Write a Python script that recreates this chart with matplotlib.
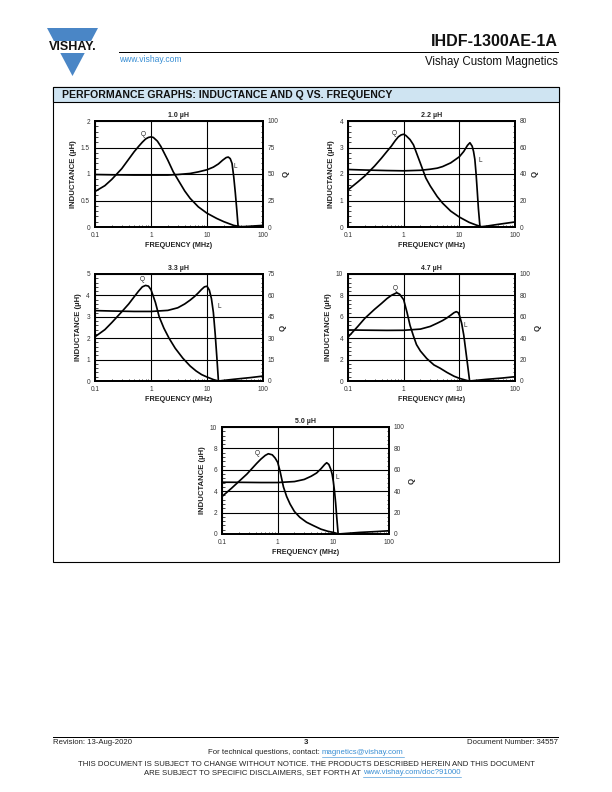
import numpy as np
import matplotlib
matplotlib.use('Agg')
import matplotlib.pyplot as plt
from matplotlib.patches import Polygon, Rectangle
from matplotlib.ticker import AutoMinorLocator, LogLocator, NullFormatter

plt.rcParams['font.family'] = ['Liberation Sans', 'DejaVu Sans']

# ---- data (frequency in MHz) ----
# 1.0 uH
f_L1 = [0.1, 0.2, 0.5, 1, 2, 3, 5, 7, 10, 13, 16, 19, 22, 24, 26, 28, 30, 32, 34, 36, 50, 70, 100]
L_1 = [0.99, 0.985, 0.98, 0.98, 0.98, 0.99, 1.01, 1.04, 1.08, 1.13, 1.19, 1.26, 1.31, 1.32, 1.29, 1.2,
       0.95, 0.65, 0.33, 0.0, 0.01, 0.02, 0.03]
f_Q1 = [0.1, 0.15, 0.2, 0.3, 0.4, 0.5, 0.6, 0.7, 0.8, 0.9, 1.0, 1.1, 1.3, 1.5, 2, 2.5, 3, 4, 5, 7, 10,
        15, 20, 30, 40, 60, 100]
Q_1 = [33.5, 39, 45, 55, 64, 71, 76, 80, 83, 84.5, 85, 84.5, 81, 76, 63, 52, 45, 34, 27, 19, 13,
       8, 5, 1.5, 0.3, 0, 0]

# 2.2 uH
f_L2 = [0.1, 0.2, 0.5, 1, 2, 3, 4, 5, 7, 10, 12, 14, 15.5, 17, 18, 19, 20, 21, 22, 23.5, 30, 50, 100]
L_2 = [2.17, 2.15, 2.13, 2.12, 2.14, 2.18, 2.22, 2.28, 2.42, 2.65, 2.85, 3.08, 3.18, 3.05, 2.85, 2.55,
       2.0, 1.35, 0.7, 0.0, 0.03, 0.1, 0.19]
f_Q2 = [0.1, 0.15, 0.2, 0.3, 0.4, 0.5, 0.6, 0.7, 0.8, 0.9, 1.0, 1.1, 1.3, 1.5, 2, 2.5, 3, 4, 5, 7, 10,
        15, 20, 25, 100]
Q_2 = [28, 34, 38.5, 46, 52, 57, 61, 65, 68, 69.5, 70, 69, 66, 62, 48, 37, 31, 23, 18, 12, 7.5,
       3.5, 1.5, 0.2, 0]

# 3.3 uH
f_L3 = [0.1, 0.2, 0.5, 1, 2, 3, 4, 5, 6, 7, 8, 9, 10, 11, 12, 13, 14, 15, 16, 30, 60, 100]
L_3 = [3.29, 3.27, 3.25, 3.25, 3.3, 3.42, 3.6, 3.78, 3.95, 4.12, 4.28, 4.4, 4.43, 4.25, 3.85, 3.2,
       2.2, 1.1, 0.0, 0.08, 0.16, 0.23]
f_Q3 = [0.1, 0.15, 0.2, 0.3, 0.4, 0.5, 0.6, 0.7, 0.8, 0.9, 1.0, 1.2, 1.4, 1.7, 2.1, 2.7, 3.7, 5,
        6.4, 8, 10, 13, 16, 100]
Q_3 = [31, 36, 41, 48.5, 54, 59, 63, 66, 67, 66.5, 64, 55, 45, 37, 30, 23, 16, 10.5, 7, 4.5, 2.8,
       1, 0, 0]

# 4.7 uH
f_L4 = [0.1, 0.2, 0.5, 1, 2, 3, 4, 5, 6, 7, 8, 8.8, 9.5, 10, 11, 12, 13, 14, 15.3, 30, 60, 100]
L_4 = [4.77, 4.75, 4.73, 4.74, 4.85, 5.1, 5.4, 5.65, 5.9, 6.15, 6.38, 6.48, 6.4, 6.17, 5.4, 4.3,
       2.9, 1.6, 0.0, 0.15, 0.28, 0.4]
f_Q4 = [0.1, 0.15, 0.2, 0.3, 0.4, 0.5, 0.6, 0.75, 0.85, 1.0, 1.15, 1.3, 1.5, 1.7, 2.0, 2.6, 3.5,
        4.5, 6, 8, 10, 13, 15, 100]
Q_4 = [41, 51, 58.5, 67, 72.5, 77, 80, 82.5, 81, 76, 64, 52, 42, 34, 28, 21, 15, 12, 8, 4.5, 2.5,
       0.8, 0, 0]

# 5.0 uH
f_L5 = [0.1, 0.2, 0.5, 1, 2, 3, 4, 5, 6, 7, 7.6, 8.3, 9, 9.5, 10, 10.5, 11, 11.5, 12.2, 30, 60, 100]
L_5 = [4.84, 4.83, 4.81, 4.81, 4.9, 5.1, 5.4, 5.7, 6.1, 6.5, 6.66, 6.5, 6.05, 5.6, 4.9, 4.0, 2.9,
       1.6, 0.0, 0.15, 0.23, 0.3]
f_Q5 = [0.1, 0.15, 0.2, 0.28, 0.35, 0.42, 0.5, 0.6, 0.68, 0.8, 0.9, 1.0, 1.1, 1.27, 1.45, 1.67,
        2.0, 2.5, 3.3, 4.4, 6, 8, 10, 12.5, 100]
Q_5 = [35, 43, 49, 56, 61.5, 66, 70, 73.5, 75, 74, 71, 67, 59, 44, 35, 28, 21, 15.6, 11, 7.8, 4.5,
       2.5, 1.5, 0, 0]

titles = ['1.0 µH', '2.2 µH', '3.3 µH', '4.7 µH', '5.0 µH']
x_ticks = [0.1, 1, 10, 100]
x_ticklabels = ['0.1', '1', '10', '100']

W, H = 612, 792
fig = plt.figure(figsize=(W / 72, H / 72), dpi=72)
page = fig.add_axes([0, 0, 1, 1])
page.set_xlim(0, W)
page.set_ylim(H, 0)
page.axis('off')

txt = '#222222'
blue = '#3a8fd4'


def panel(box, title, fL, L, fQ, Q, lmax, lstep, qmax, qstep, qlab, llab):
    l, t, r, b = box
    ax = fig.add_axes([l / W, (H - b) / H, (r - l) / W, (b - t) / H])
    ax.set_xscale('log')
    ax.set_xlim(0.1, 100)
    ax.set_ylim(0, lmax)
    ax.set_xticks(x_ticks)
    ax.set_xticklabels(x_ticklabels)
    ax.set_yticks(np.arange(0, lmax + lstep / 2, lstep))
    ax.set_yticklabels([('%g' % v) for v in np.arange(0, lmax + lstep / 2, lstep)])
    ax.xaxis.set_minor_locator(LogLocator(subs=range(2, 10)))
    ax.xaxis.set_minor_formatter(NullFormatter())
    ax.yaxis.set_minor_locator(AutoMinorLocator(5))
    ax.grid(which='major', color='black', lw=1.1)
    ax.tick_params(which='major', length=0, labelsize=6.5, labelcolor='#333333', pad=5)
    ax.tick_params(which='minor', direction='in', length=2.5, width=0.7)
    for s in ax.spines.values():
        s.set_linewidth(1.8)
    ax.plot(fL, L, color='black', lw=1.7, zorder=5)
    ax.set_title(title, fontsize=7, fontweight='bold', pad=4, color=txt)
    ax.set_ylabel('INDUCTANCE (µH)', fontsize=7.8, fontweight='bold', labelpad=4, color=txt)
    ax.set_xlabel('FREQUENCY (MHz)', fontsize=7.3, fontweight='bold', labelpad=3, color=txt)
    ax.text(qlab[0], qlab[1], 'Q', fontsize=6.5, ha='center', va='center', color=txt)
    ax.text(llab[0], llab[1], 'L', fontsize=6.5, ha='center', va='center', color=txt)

    ax2 = ax.twinx()
    ax2.set_ylim(0, qmax)
    ax2.set_yticks(np.arange(0, qmax + qstep / 2, qstep))
    ax2.yaxis.set_minor_locator(AutoMinorLocator(5))
    ax2.tick_params(which='major', length=0, labelsize=6.5, labelcolor='#333333', pad=5)
    ax2.tick_params(which='minor', direction='in', length=2.5, width=0.7)
    for s in ax2.spines.values():
        s.set_linewidth(1.8)
    ax2.plot(fQ, Q, color='black', lw=1.7, zorder=5)
    ax2.set_ylabel('Q', fontsize=7.8, fontweight='bold', labelpad=4, color=txt)
    return ax


panel((95, 121, 263, 227), titles[0], f_L1, L_1, f_Q1, Q_1, 2, 0.5, 100, 25, (0.74, 1.74), (32, 1.14))
panel((348, 121, 515, 227), titles[1], f_L2, L_2, f_Q2, Q_2, 4, 1, 80, 20, (0.67, 3.53), (23.5, 2.52))
panel((95, 274, 263, 381), titles[2], f_L3, L_3, f_Q3, Q_3, 5, 1, 75, 15, (0.69, 4.74), (16.5, 3.5))
panel((348, 274, 515, 381), titles[3], f_L4, L_4, f_Q4, Q_4, 10, 2, 100, 20, (0.70, 8.66), (12.8, 5.23))
panel((222, 427, 389, 534), titles[4], f_L5, L_5, f_Q5, Q_5, 10, 2, 100, 20, (0.43, 7.5), (11.6, 5.3))

# ---- page furniture ----
# logo
page.add_patch(Polygon([(47, 28), (98, 28), (72.5, 76)], closed=True, fc='#4a86c6', ec='none'))
page.add_patch(Rectangle((44, 41), 58, 12, fc='white', ec='none'))
page.text(72.5, 47.5, 'VISHAY.', fontsize=12.5, fontweight='bold', ha='center', va='center',
          color='#111111')
page.text(119, 59, 'www.vishay.com', fontsize=8.5, color=blue, ha='left', va='center')
page.plot([119, 558], [52, 52], color='black', lw=1)
page.text(558, 41, 'IHDF-1300AE-1A', fontsize=16, fontweight='bold', ha='right', va='center',
          color='#111111')
page.text(558, 62, 'Vishay Custom Magnetics', fontsize=11.5, ha='right', va='center', color='#111111')

# section box
page.add_patch(Rectangle((53, 87), 506, 475, fill=False, ec='black', lw=1.1))
page.add_patch(Rectangle((53, 87), 506, 15, fc='#cfe4f2', ec='black', lw=1.1))
page.text(62, 94.8, 'PERFORMANCE GRAPHS: INDUCTANCE AND Q VS. FREQUENCY', fontsize=10.5,
          fontweight='bold', ha='left', va='center', color='#111111')

# footer
fs = 7.7
page.plot([53, 558], [737, 737], color='black', lw=1)
page.text(53, 742.5, 'Revision: 13-Aug-2020', fontsize=fs, ha='left', va='center', color=txt)
page.text(306, 743, '3', fontsize=fs, fontweight='bold', ha='center', va='center', color=txt)
page.text(558, 742.5, 'Document Number: 34557', fontsize=fs, ha='right', va='center', color=txt)
page.text(322, 753, 'For technical questions, contact: ', fontsize=fs, ha='right', va='center',
          color=txt)
link1 = page.text(322, 753, 'magnetics@vishay.com', fontsize=fs, ha='left', va='center', color=blue)
page.text(306, 764, 'THIS DOCUMENT IS SUBJECT TO CHANGE WITHOUT NOTICE. THE PRODUCTS DESCRIBED '
          'HEREIN AND THIS DOCUMENT', fontsize=fs, ha='center', va='center', color=txt)
page.text(363, 773, 'ARE SUBJECT TO SPECIFIC DISCLAIMERS, SET FORTH AT ', fontsize=fs,
          ha='right', va='center', color=txt)
link2 = page.text(363, 773, 'www.vishay.com/doc?91000', fontsize=fs, ha='left', va='center',
                  color=blue)

fig.canvas.draw()
rend = fig.canvas.get_renderer()
for t, y in [(link1, 757), (link2, 777)]:
    bb = t.get_window_extent(rend)
    page.plot([bb.x0, bb.x1], [y, y], color=blue, lw=0.6)

fig.savefig('out.png', dpi=72)
